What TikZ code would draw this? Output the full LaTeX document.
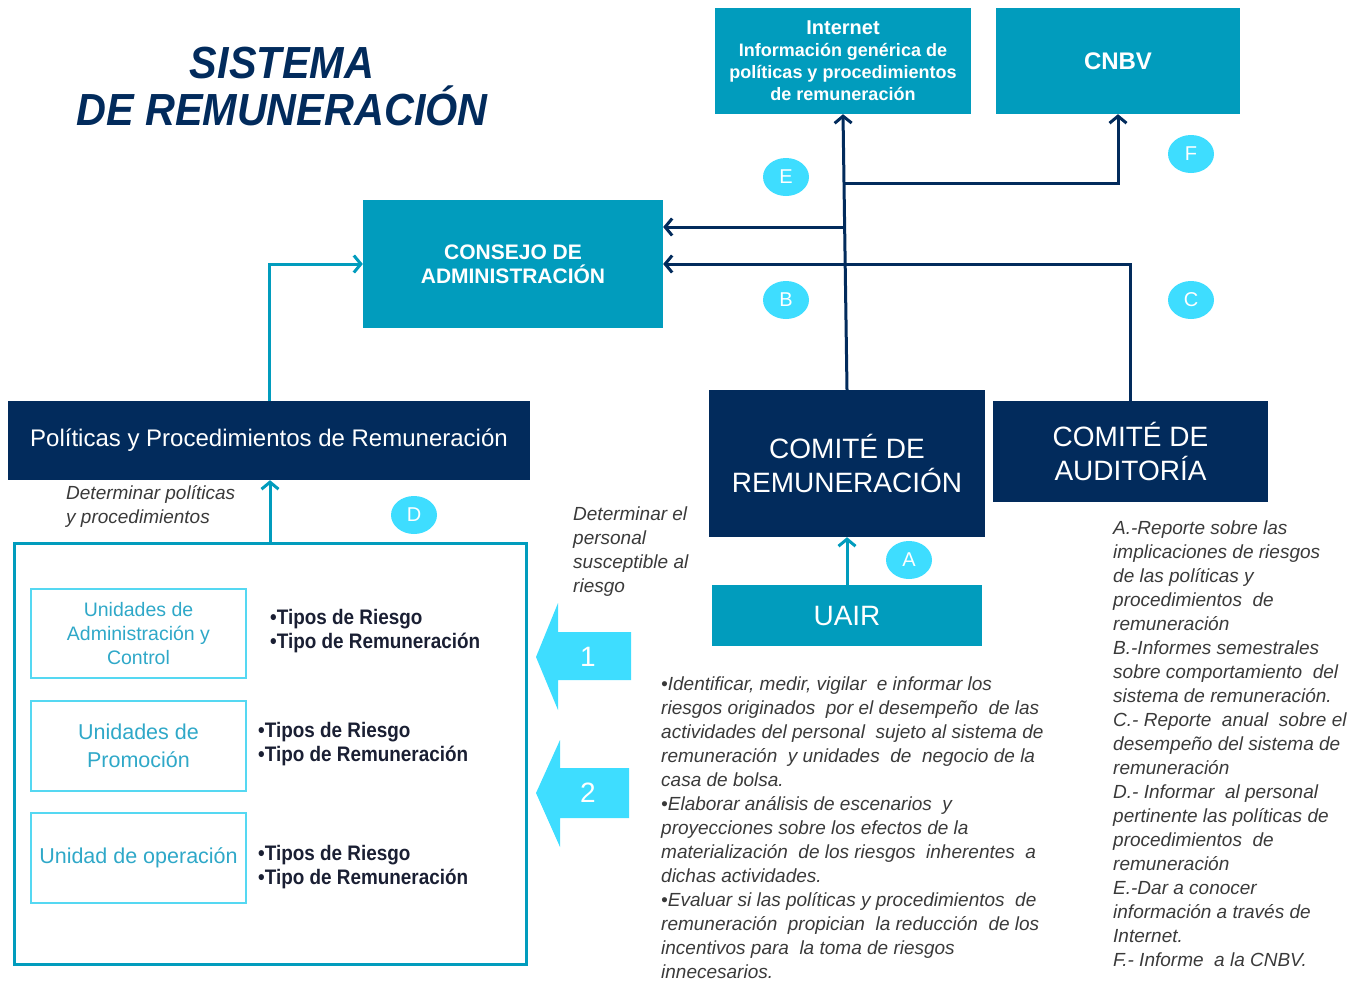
\documentclass[tikz,border=0pt]{standalone}
\usepackage{fontspec}
\setmainfont{Liberation Sans}
\newfontfamily\narrowfont[FakeStretch=0.9]{Liberation Sans}
\newfontfamily\titlefont[FakeStretch=0.92]{Liberation Sans}
\usetikzlibrary{arrows.meta,shapes.geometric}
\definecolor{navy}{HTML}{022B5C}
\definecolor{tealbox}{HTML}{019CBD}
\definecolor{cyanl}{HTML}{3EDDFF}
\definecolor{unitxt}{HTML}{2FA8C8}
\definecolor{unibrd}{HTML}{55D8F2}
\definecolor{grytxt}{HTML}{3A3A3A}
\definecolor{bultxt}{HTML}{1A1F33}
\tikzset{
  tbox/.style={fill=tealbox, draw=none, text=white, align=center, inner sep=0},
  nbox/.style={fill=navy, draw=none, text=white, align=center, inner sep=0},
  ubox/.style={draw=unibrd, line width=1.5pt, text=unitxt, align=center, inner sep=0},
  tip/.style={-{Straight Barb[length=7pt,width=17pt]}},
  navyline/.style={draw=navy, line width=3pt, tip},
  tealline/.style={draw=tealbox, line width=3pt, tip},
  badge/.style={ellipse, fill=cyanl, text=white, minimum width=46pt, minimum height=38pt, inner sep=0, font=\fontsize{20}{22}\selectfont},
  itxt/.style={text=grytxt, align=left, inner sep=0, font=\itshape\fontsize{19}{24}\selectfont},
  btxt/.style={text=bultxt, align=left, inner sep=0, font=\narrowfont\bfseries\fontsize{21}{24}\selectfont},
}
\begin{document}
\begin{tikzpicture}[x=1pt,y=-1pt]
\useasboundingbox (0,0) rectangle (1364,980);

% title
\node[text=navy, align=center, font=\titlefont\bfseries\itshape\fontsize{45}{47}\selectfont] (title) at (282,87) {SISTEMA\\DE REMUNERACIÓN};

% boxes
\node[tbox, minimum width=256pt, minimum height=106pt, font=\bfseries\fontsize{18}{22}\selectfont] (internet) at (843,61)
  {\fontsize{20}{22}\selectfont Internet\\Información genérica de\\políticas y procedimientos\\de remuneración};
\node[tbox, minimum width=244pt, minimum height=106pt, font=\bfseries\fontsize{24}{26}\selectfont] (cnbv) at (1118,61) {CNBV};
\node[tbox, minimum width=300pt, minimum height=128pt, font=\bfseries\fontsize{21}{24}\selectfont] (consejo) at (513,264) {CONSEJO DE\\ADMINISTRACIÓN};
\node[nbox, minimum width=522pt, minimum height=79pt, font=\fontsize{24}{28}\selectfont] (politicas) at (269,440.5) {Políticas y Procedimientos de Remuneración};
\node[nbox, minimum width=276pt, minimum height=147pt, font=\fontsize{28}{34}\selectfont] (comrem) at (847,463.5) {COMITÉ DE\\REMUNERACIÓN};
\node[nbox, minimum width=275pt, minimum height=101pt, font=\fontsize{28}{34}\selectfont] (comaud) at (1130.5,451.5) {COMITÉ DE\\AUDITORÍA};
\node[tbox, minimum width=270pt, minimum height=61pt, font=\fontsize{28}{32}\selectfont] (uair) at (847,615.5) {UAIR};

% big box and units
\node[draw=tealbox, line width=3pt, minimum width=512pt, minimum height=421pt, inner sep=0] (bigbox) at (270,753.5) {};
\node[ubox, minimum width=215pt, minimum height=89pt, font=\fontsize{19.5}{24}\selectfont] (u1) at (138.5,633.5) {Unidades de\\Administración y\\Control};
\node[ubox, minimum width=215pt, minimum height=90pt, font=\fontsize{21.5}{28}\selectfont] (u2) at (138.5,746) {Unidades de\\Promoción};
\node[ubox, minimum width=215pt, minimum height=90pt, font=\fontsize{21.5}{28}\selectfont] (u3) at (138.5,858) {Unidad de operación};

\node[btxt, anchor=west] (t1) at (270,631) {•Tipos de Riesgo\\•Tipo de Remuneración};
\node[btxt, anchor=west] (t2) at (258,744) {•Tipos de Riesgo\\•Tipo de Remuneración};
\node[btxt, anchor=west] (t3) at (258,867) {•Tipos de Riesgo\\•Tipo de Remuneración};

% block arrows
\fill[cyanl] (631,632) -- (558,632) -- (558,603) -- (536,657) -- (558,710) -- (558,680) -- (631,680) -- cycle;
\node[text=white, font=\fontsize{28}{30}\selectfont] (n1) at (588,657) {1};
\fill[cyanl] (629,768) -- (560,768) -- (560,740) -- (536,793) -- (560,847) -- (560,818) -- (629,818) -- cycle;
\node[text=white, font=\fontsize{28}{30}\selectfont] (n2) at (588,793) {2};

% connectors
\coordinate (jf) at (845,183);
\coordinate (je) at (843.5,227);
\draw[navyline] (comrem.north) -- (internet.south);
\draw[navyline] (jf) -| (cnbv.south);
\draw[navyline] (je) -- (consejo.east |- je);
\draw[navyline] (comaud.north) |- (consejo.east);
\draw[tealline] (politicas.north) |- (consejo.west);
\draw[tealline] (bigbox.north) -- (bigbox.north |- politicas.south);
\draw[tealline] (uair.north) -- (comrem.south);

% badges
\node[badge] (bE) at (786,177) {E};
\node[badge] (bB) at (786,300) {B};
\node[badge] (bC) at (1191,300) {C};
\node[badge] (bF) at (1191,154) {F};
\node[badge] (bD) at (414,515) {D};
\node[badge] (bA) at (909,560) {A};

% italic texts
\node[itxt, anchor=west] (dpol) at (66,506) {Determinar políticas\\y procedimientos};
\node[itxt, anchor=west] (dper) at (573,552) {Determinar el\\personal\\susceptible al\\riesgo};
\node[itxt, anchor=west] (funcs) at (661,828) {•Identificar, medir, vigilar \ e informar los\\riesgos originados \ por el desempeño \ de las\\actividades del personal \ sujeto al sistema de\\remuneración \ y unidades \ de \ negocio de la\\casa de bolsa.\\•Elaborar análisis de escenarios \ y\\proyecciones sobre los efectos de la\\materialización \ de los riesgos \ inherentes \ a\\dichas actividades.\\•Evaluar si las políticas y procedimientos \ de\\remuneración \ propician \ la reducción \ de los\\incentivos para \ la toma de riesgos\\innecesarios.};
\node[itxt, anchor=west] (legend) at (1113,744) {A.-Reporte sobre las\\implicaciones de riesgos\\de las políticas y\\procedimientos \ de\\remuneración\\B.-Informes semestrales\\sobre comportamiento \ del\\sistema de remuneración.\\C.- Reporte \ anual \ sobre el\\desempeño del sistema de\\remuneración\\D.- Informar \ al personal\\pertinente las políticas de\\procedimientos \ de\\remuneración\\E.-Dar a conocer\\información a través de\\Internet.\\F.- Informe \ a la CNBV.};
\end{tikzpicture}
\end{document}
